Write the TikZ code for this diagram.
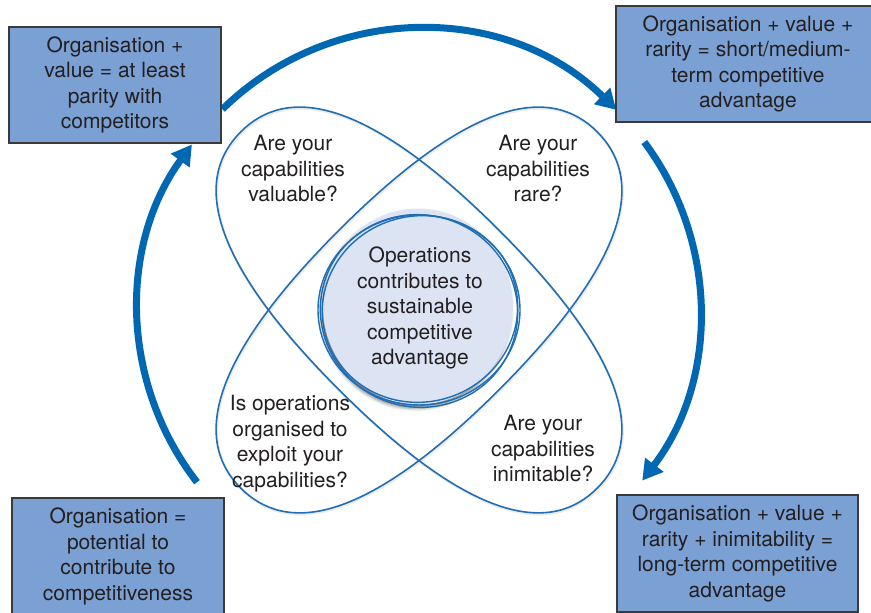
\documentclass[tikz,border=0pt]{standalone}
\usepackage{fontspec}
\setmainfont{TeX Gyre Heros}
\usetikzlibrary{arrows.meta,shadows.blur}
\definecolor{boxfill}{HTML}{7BA0D4}
\definecolor{boxline}{HTML}{3A3A3A}
\definecolor{ringblue}{HTML}{1F6EB4}
\definecolor{arcblue}{HTML}{0067B2}
\definecolor{discfill}{HTML}{DCE4F4}
\definecolor{txt}{HTML}{231F20}
\begin{document}
\begin{tikzpicture}[x=1pt,y=1pt,
  txtstyle/.style={font=\fontsize{21}{25.5}\selectfont, text=txt, align=center, inner sep=0pt},
  outcome/.style={txtstyle, rectangle, draw=boxline, line width=1.5pt, fill=boxfill},
  lobe/.style={draw=ringblue, line width=1.6pt},
  lobeshadow/.style={draw=black!7, line width=2.5pt},
  ring/.style={draw=ringblue, line width=1.4pt},
  cyclearrow/.style={draw=arcblue, line width=7pt, -{Triangle[length=20pt,width=22pt]}},
]
\useasboundingbox (0,0) rectangle (871,613);
\coordinate (C) at (419,303);
% faint shadows of the lobes
\foreach \ang in {-45,45} {
  \draw[lobeshadow, shift={(419.8,301.6)}, rotate=\ang] (252,0) .. controls (252,62) and (195,113) .. (0,113) .. controls (-195,113) and (-252,62) .. (-252,0) .. controls (-252,-62) and (-195,-113) .. (0,-113) .. controls (195,-113) and (252,-62) .. cycle;
}
% lobes
\foreach \ang in {-45,45} {
  \draw[lobe, shift={(C)}, rotate=\ang] (252,0) .. controls (252,62) and (195,113) .. (0,113) .. controls (-195,113) and (-252,62) .. (-252,0) .. controls (-252,-62) and (-195,-113) .. (0,-113) .. controls (195,-113) and (252,-62) .. cycle;
}
% central disc
\path[fill=discfill, blur shadow={shadow xshift=-2pt, shadow yshift=-4pt, shadow blur radius=3pt, shadow opacity=45}] (418,306.5) ellipse [x radius=95pt, y radius=98pt];
% rings
\draw[ring] (419,303) ellipse [x radius=101pt, y radius=95pt];
\draw[ring, rotate around={15:(420,304)}] (420,304) ellipse [x radius=98pt, y radius=93pt];
\draw[ring, rotate around={-20:(419,302)}] (419,302) ellipse [x radius=99pt, y radius=96pt];
% cycle arrows
\draw[cyclearrow] (C) ++(134.4:281pt) arc[start angle=134.4, end angle=45.4, radius=281pt];
\draw[cyclearrow] (C) ++(36.7:281pt) arc[start angle=36.7, end angle=-37.4, radius=281pt];
\draw[cyclearrow] (C) ++(217.8:281pt) arc[start angle=217.8, end angle=143.9, radius=281pt];
% texts in lobes
\node[txtstyle] (val) at (293,444) {Are your\\capabilities\\valuable?};
\node[txtstyle] (rar) at (538,444) {Are your\\capabilities\\rare?};
\node[txtstyle] (org) at (290,169.5) {Is operations\\organised to\\exploit your\\capabilities?};
\node[txtstyle] (inm) at (543,164) {Are your\\capabilities\\inimitable?};
\node[txtstyle] (ctr) at (420,305) {Operations\\contributes to\\sustainable\\competitive\\advantage};
% outcome boxes
\node[outcome, minimum width=212pt, minimum height=116pt] (tl) at (115,528) {Organisation +\\value = at least\\parity with\\competitors};
\node[outcome, minimum width=264pt, minimum height=116pt] (tr) at (748,549) {Organisation + value +\\rarity = short/medium-\\term competitive\\advantage};
\node[outcome, minimum width=241pt, minimum height=117pt] (br) at (737.5,59.5) {Organisation + value +\\rarity + inimitability =\\long-term competitive\\advantage};
\node[outcome, minimum width=212pt, minimum height=117pt] (bl) at (118,56.5) {Organisation =\\potential to\\contribute to\\competitiveness};
\end{tikzpicture}
\end{document}
